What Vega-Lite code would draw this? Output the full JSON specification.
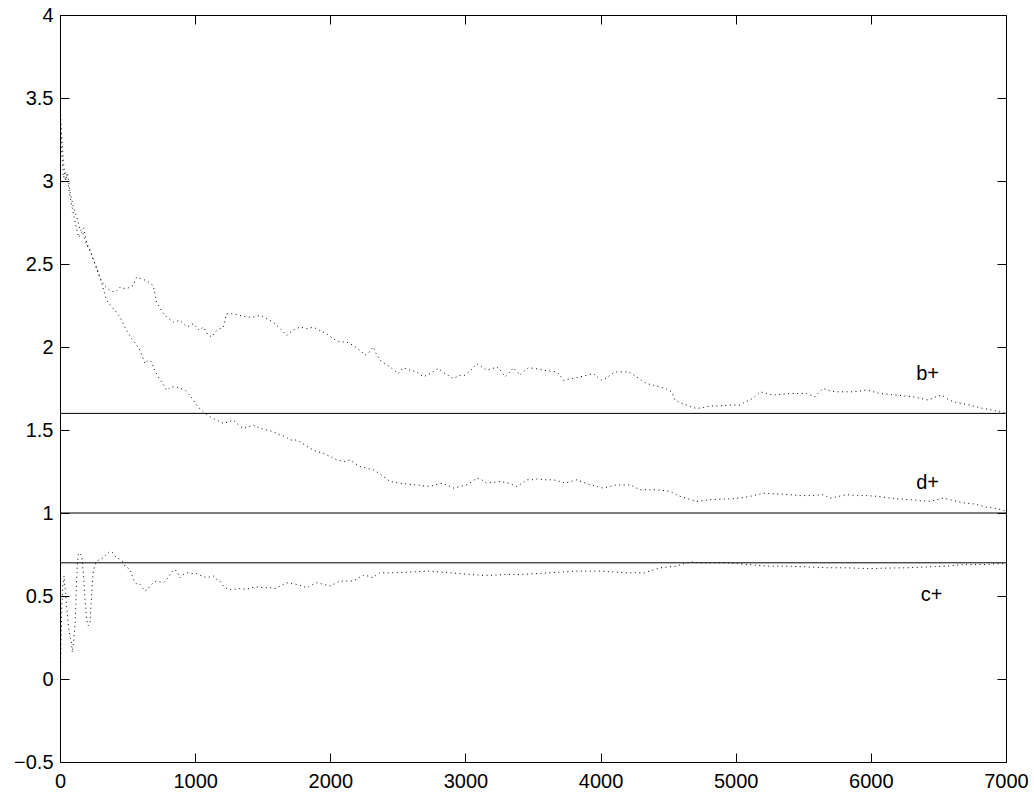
{
  "$schema": "https://vega.github.io/schema/vega-lite/v6.json",
  "width": 946,
  "height": 747,
  "autosize": {"type": "none"},
  "padding": {"left": 60, "top": 15, "right": 28, "bottom": 33},
  "background": "white",
  "config": {
    "view": {"stroke": "black", "strokeWidth": 1},
    "axis": {"domain": false, "grid": false, "labelFont": "Liberation Sans", "labelFontSize": 20, "labelColor": "black", "tickColor": "black", "tickWidth": 1, "tickSize": -9, "title": null, "labelFlush": false, "labelOverlap": false}
  },
  "datasets": {
    "curves": [
      {"s":"b","x":0,"y":3.48},{"s":"b","x":10,"y":3.3},{"s":"b","x":25,"y":3.12},{"s":"b","x":40,"y":3.0},{"s":"b","x":55,"y":3.05},{"s":"b","x":75,"y":2.93},{"s":"b","x":100,"y":2.84},{"s":"b","x":125,"y":2.78},{"s":"b","x":150,"y":2.7},{"s":"b","x":175,"y":2.72},{"s":"b","x":200,"y":2.62},{"s":"b","x":225,"y":2.58},{"s":"b","x":250,"y":2.52},{"s":"b","x":275,"y":2.47},{"s":"b","x":300,"y":2.41},{"s":"b","x":330,"y":2.37},{"s":"b","x":370,"y":2.34},{"s":"b","x":410,"y":2.33},{"s":"b","x":444,"y":2.36},{"s":"b","x":490,"y":2.35},{"s":"b","x":540,"y":2.37},{"s":"b","x":567,"y":2.42},{"s":"b","x":600,"y":2.41},{"s":"b","x":641,"y":2.4},{"s":"b","x":690,"y":2.37},{"s":"b","x":715,"y":2.27},{"s":"b","x":750,"y":2.22},{"s":"b","x":789,"y":2.18},{"s":"b","x":840,"y":2.15},{"s":"b","x":888,"y":2.16},{"s":"b","x":940,"y":2.12},{"s":"b","x":987,"y":2.14},{"s":"b","x":1030,"y":2.1},{"s":"b","x":1060,"y":2.12},{"s":"b","x":1090,"y":2.08},{"s":"b","x":1122,"y":2.06},{"s":"b","x":1160,"y":2.1},{"s":"b","x":1209,"y":2.12},{"s":"b","x":1233,"y":2.2},{"s":"b","x":1280,"y":2.2},{"s":"b","x":1330,"y":2.19},{"s":"b","x":1381,"y":2.18},{"s":"b","x":1430,"y":2.18},{"s":"b","x":1480,"y":2.19},{"s":"b","x":1530,"y":2.17},{"s":"b","x":1578,"y":2.15},{"s":"b","x":1630,"y":2.11},{"s":"b","x":1677,"y":2.07},{"s":"b","x":1720,"y":2.1},{"s":"b","x":1776,"y":2.12},{"s":"b","x":1830,"y":2.11},{"s":"b","x":1874,"y":2.12},{"s":"b","x":1920,"y":2.1},{"s":"b","x":1973,"y":2.08},{"s":"b","x":2020,"y":2.05},{"s":"b","x":2072,"y":2.03},{"s":"b","x":2120,"y":2.03},{"s":"b","x":2170,"y":2.01},{"s":"b","x":2220,"y":1.98},{"s":"b","x":2257,"y":1.95},{"s":"b","x":2290,"y":1.97},{"s":"b","x":2318,"y":2.0},{"s":"b","x":2345,"y":1.95},{"s":"b","x":2380,"y":1.91},{"s":"b","x":2442,"y":1.88},{"s":"b","x":2503,"y":1.84},{"s":"b","x":2540,"y":1.875},{"s":"b","x":2590,"y":1.86},{"s":"b","x":2639,"y":1.85},{"s":"b","x":2688,"y":1.82},{"s":"b","x":2740,"y":1.84},{"s":"b","x":2799,"y":1.87},{"s":"b","x":2850,"y":1.84},{"s":"b","x":2910,"y":1.81},{"s":"b","x":2960,"y":1.83},{"s":"b","x":2997,"y":1.83},{"s":"b","x":3040,"y":1.86},{"s":"b","x":3083,"y":1.9},{"s":"b","x":3120,"y":1.88},{"s":"b","x":3158,"y":1.86},{"s":"b","x":3200,"y":1.87},{"s":"b","x":3232,"y":1.88},{"s":"b","x":3270,"y":1.85},{"s":"b","x":3293,"y":1.82},{"s":"b","x":3330,"y":1.85},{"s":"b","x":3355,"y":1.875},{"s":"b","x":3404,"y":1.83},{"s":"b","x":3440,"y":1.86},{"s":"b","x":3466,"y":1.875},{"s":"b","x":3520,"y":1.87},{"s":"b","x":3577,"y":1.86},{"s":"b","x":3630,"y":1.855},{"s":"b","x":3676,"y":1.85},{"s":"b","x":3700,"y":1.83},{"s":"b","x":3725,"y":1.8},{"s":"b","x":3790,"y":1.81},{"s":"b","x":3848,"y":1.82},{"s":"b","x":3900,"y":1.83},{"s":"b","x":3947,"y":1.84},{"s":"b","x":3975,"y":1.82},{"s":"b","x":4008,"y":1.8},{"s":"b","x":4040,"y":1.81},{"s":"b","x":4070,"y":1.83},{"s":"b","x":4110,"y":1.85},{"s":"b","x":4144,"y":1.85},{"s":"b","x":4206,"y":1.85},{"s":"b","x":4267,"y":1.82},{"s":"b","x":4300,"y":1.8},{"s":"b","x":4341,"y":1.78},{"s":"b","x":4390,"y":1.77},{"s":"b","x":4440,"y":1.76},{"s":"b","x":4490,"y":1.745},{"s":"b","x":4526,"y":1.73},{"s":"b","x":4551,"y":1.68},{"s":"b","x":4600,"y":1.66},{"s":"b","x":4638,"y":1.65},{"s":"b","x":4680,"y":1.635},{"s":"b","x":4712,"y":1.63},{"s":"b","x":4760,"y":1.635},{"s":"b","x":4810,"y":1.645},{"s":"b","x":4880,"y":1.645},{"s":"b","x":4958,"y":1.65},{"s":"b","x":5032,"y":1.65},{"s":"b","x":5070,"y":1.67},{"s":"b","x":5106,"y":1.68},{"s":"b","x":5140,"y":1.7},{"s":"b","x":5180,"y":1.73},{"s":"b","x":5230,"y":1.72},{"s":"b","x":5276,"y":1.71},{"s":"b","x":5340,"y":1.715},{"s":"b","x":5402,"y":1.72},{"s":"b","x":5460,"y":1.72},{"s":"b","x":5525,"y":1.72},{"s":"b","x":5587,"y":1.7},{"s":"b","x":5620,"y":1.73},{"s":"b","x":5648,"y":1.75},{"s":"b","x":5700,"y":1.735},{"s":"b","x":5747,"y":1.73},{"s":"b","x":5810,"y":1.73},{"s":"b","x":5870,"y":1.73},{"s":"b","x":5920,"y":1.735},{"s":"b","x":5969,"y":1.74},{"s":"b","x":6020,"y":1.73},{"s":"b","x":6068,"y":1.72},{"s":"b","x":6130,"y":1.715},{"s":"b","x":6191,"y":1.71},{"s":"b","x":6250,"y":1.705},{"s":"b","x":6314,"y":1.7},{"s":"b","x":6370,"y":1.69},{"s":"b","x":6425,"y":1.68},{"s":"b","x":6480,"y":1.7},{"s":"b","x":6524,"y":1.71},{"s":"b","x":6560,"y":1.69},{"s":"b","x":6610,"y":1.67},{"s":"b","x":6670,"y":1.66},{"s":"b","x":6734,"y":1.65},{"s":"b","x":6780,"y":1.64},{"s":"b","x":6832,"y":1.63},{"s":"b","x":6900,"y":1.62},{"s":"b","x":6950,"y":1.61},{"s":"b","x":7000,"y":1.6},
      {"s":"d","x":0,"y":3.45},{"s":"d","x":12,"y":3.18},{"s":"d","x":25,"y":3.02},{"s":"d","x":40,"y":3.05},{"s":"d","x":60,"y":2.98},{"s":"d","x":80,"y":2.88},{"s":"d","x":100,"y":2.8},{"s":"d","x":120,"y":2.72},{"s":"d","x":140,"y":2.66},{"s":"d","x":165,"y":2.7},{"s":"d","x":190,"y":2.63},{"s":"d","x":220,"y":2.58},{"s":"d","x":250,"y":2.52},{"s":"d","x":280,"y":2.45},{"s":"d","x":310,"y":2.38},{"s":"d","x":345,"y":2.28},{"s":"d","x":375,"y":2.25},{"s":"d","x":407,"y":2.22},{"s":"d","x":444,"y":2.18},{"s":"d","x":493,"y":2.1},{"s":"d","x":530,"y":2.05},{"s":"d","x":560,"y":2.02},{"s":"d","x":592,"y":1.98},{"s":"d","x":629,"y":1.9},{"s":"d","x":650,"y":1.92},{"s":"d","x":678,"y":1.91},{"s":"d","x":700,"y":1.86},{"s":"d","x":727,"y":1.82},{"s":"d","x":760,"y":1.78},{"s":"d","x":789,"y":1.74},{"s":"d","x":820,"y":1.76},{"s":"d","x":851,"y":1.76},{"s":"d","x":890,"y":1.75},{"s":"d","x":925,"y":1.74},{"s":"d","x":960,"y":1.71},{"s":"d","x":987,"y":1.68},{"s":"d","x":1020,"y":1.64},{"s":"d","x":1060,"y":1.61},{"s":"d","x":1110,"y":1.58},{"s":"d","x":1159,"y":1.56},{"s":"d","x":1209,"y":1.54},{"s":"d","x":1250,"y":1.55},{"s":"d","x":1282,"y":1.56},{"s":"d","x":1320,"y":1.53},{"s":"d","x":1357,"y":1.51},{"s":"d","x":1400,"y":1.52},{"s":"d","x":1431,"y":1.53},{"s":"d","x":1480,"y":1.51},{"s":"d","x":1530,"y":1.5},{"s":"d","x":1580,"y":1.49},{"s":"d","x":1628,"y":1.47},{"s":"d","x":1670,"y":1.46},{"s":"d","x":1702,"y":1.44},{"s":"d","x":1740,"y":1.44},{"s":"d","x":1776,"y":1.43},{"s":"d","x":1810,"y":1.41},{"s":"d","x":1850,"y":1.39},{"s":"d","x":1900,"y":1.37},{"s":"d","x":1948,"y":1.36},{"s":"d","x":2000,"y":1.34},{"s":"d","x":2047,"y":1.32},{"s":"d","x":2100,"y":1.31},{"s":"d","x":2146,"y":1.32},{"s":"d","x":2180,"y":1.3},{"s":"d","x":2220,"y":1.28},{"s":"d","x":2270,"y":1.27},{"s":"d","x":2318,"y":1.26},{"s":"d","x":2360,"y":1.24},{"s":"d","x":2392,"y":1.22},{"s":"d","x":2442,"y":1.19},{"s":"d","x":2480,"y":1.185},{"s":"d","x":2516,"y":1.18},{"s":"d","x":2570,"y":1.175},{"s":"d","x":2615,"y":1.17},{"s":"d","x":2660,"y":1.168},{"s":"d","x":2713,"y":1.16},{"s":"d","x":2760,"y":1.165},{"s":"d","x":2812,"y":1.18},{"s":"d","x":2860,"y":1.17},{"s":"d","x":2910,"y":1.15},{"s":"d","x":2960,"y":1.16},{"s":"d","x":3010,"y":1.17},{"s":"d","x":3050,"y":1.19},{"s":"d","x":3083,"y":1.21},{"s":"d","x":3120,"y":1.2},{"s":"d","x":3158,"y":1.18},{"s":"d","x":3210,"y":1.185},{"s":"d","x":3256,"y":1.19},{"s":"d","x":3320,"y":1.18},{"s":"d","x":3380,"y":1.16},{"s":"d","x":3420,"y":1.18},{"s":"d","x":3454,"y":1.2},{"s":"d","x":3490,"y":1.2},{"s":"d","x":3528,"y":1.205},{"s":"d","x":3590,"y":1.2},{"s":"d","x":3651,"y":1.2},{"s":"d","x":3700,"y":1.19},{"s":"d","x":3737,"y":1.18},{"s":"d","x":3780,"y":1.19},{"s":"d","x":3824,"y":1.2},{"s":"d","x":3870,"y":1.185},{"s":"d","x":3922,"y":1.17},{"s":"d","x":3970,"y":1.16},{"s":"d","x":4020,"y":1.15},{"s":"d","x":4070,"y":1.16},{"s":"d","x":4119,"y":1.17},{"s":"d","x":4170,"y":1.168},{"s":"d","x":4218,"y":1.17},{"s":"d","x":4255,"y":1.155},{"s":"d","x":4292,"y":1.14},{"s":"d","x":4350,"y":1.14},{"s":"d","x":4415,"y":1.14},{"s":"d","x":4470,"y":1.135},{"s":"d","x":4514,"y":1.13},{"s":"d","x":4550,"y":1.115},{"s":"d","x":4588,"y":1.1},{"s":"d","x":4650,"y":1.085},{"s":"d","x":4712,"y":1.07},{"s":"d","x":4760,"y":1.075},{"s":"d","x":4810,"y":1.08},{"s":"d","x":4880,"y":1.083},{"s":"d","x":4958,"y":1.085},{"s":"d","x":5030,"y":1.09},{"s":"d","x":5106,"y":1.1},{"s":"d","x":5160,"y":1.11},{"s":"d","x":5217,"y":1.12},{"s":"d","x":5270,"y":1.115},{"s":"d","x":5328,"y":1.115},{"s":"d","x":5400,"y":1.11},{"s":"d","x":5476,"y":1.105},{"s":"d","x":5560,"y":1.105},{"s":"d","x":5648,"y":1.11},{"s":"d","x":5698,"y":1.09},{"s":"d","x":5760,"y":1.1},{"s":"d","x":5821,"y":1.11},{"s":"d","x":5900,"y":1.105},{"s":"d","x":5969,"y":1.105},{"s":"d","x":6050,"y":1.1},{"s":"d","x":6142,"y":1.09},{"s":"d","x":6220,"y":1.085},{"s":"d","x":6290,"y":1.08},{"s":"d","x":6360,"y":1.075},{"s":"d","x":6438,"y":1.07},{"s":"d","x":6490,"y":1.08},{"s":"d","x":6536,"y":1.09},{"s":"d","x":6585,"y":1.08},{"s":"d","x":6635,"y":1.07},{"s":"d","x":6700,"y":1.06},{"s":"d","x":6758,"y":1.055},{"s":"d","x":6810,"y":1.045},{"s":"d","x":6857,"y":1.035},{"s":"d","x":6910,"y":1.03},{"s":"d","x":6968,"y":1.02},{"s":"d","x":7000,"y":1.01},
      {"s":"c","x":0,"y":-0.2},{"s":"c","x":4,"y":0.05},{"s":"c","x":8,"y":0.25},{"s":"c","x":12,"y":0.4},{"s":"c","x":20,"y":0.55},{"s":"c","x":30,"y":0.62},{"s":"c","x":37,"y":0.55},{"s":"c","x":44,"y":0.48},{"s":"c","x":53,"y":0.4},{"s":"c","x":62,"y":0.32},{"s":"c","x":74,"y":0.26},{"s":"c","x":86,"y":0.21},{"s":"c","x":91,"y":0.16},{"s":"c","x":100,"y":0.22},{"s":"c","x":111,"y":0.32},{"s":"c","x":117,"y":0.45},{"s":"c","x":123,"y":0.6},{"s":"c","x":130,"y":0.7},{"s":"c","x":136,"y":0.75},{"s":"c","x":148,"y":0.76},{"s":"c","x":160,"y":0.74},{"s":"c","x":167,"y":0.69},{"s":"c","x":173,"y":0.64},{"s":"c","x":179,"y":0.56},{"s":"c","x":185,"y":0.48},{"s":"c","x":191,"y":0.42},{"s":"c","x":197,"y":0.36},{"s":"c","x":204,"y":0.33},{"s":"c","x":210,"y":0.32},{"s":"c","x":222,"y":0.34},{"s":"c","x":228,"y":0.42},{"s":"c","x":234,"y":0.5},{"s":"c","x":240,"y":0.58},{"s":"c","x":247,"y":0.65},{"s":"c","x":260,"y":0.69},{"s":"c","x":271,"y":0.71},{"s":"c","x":295,"y":0.72},{"s":"c","x":320,"y":0.73},{"s":"c","x":345,"y":0.75},{"s":"c","x":370,"y":0.77},{"s":"c","x":390,"y":0.76},{"s":"c","x":407,"y":0.74},{"s":"c","x":425,"y":0.73},{"s":"c","x":444,"y":0.72},{"s":"c","x":462,"y":0.71},{"s":"c","x":481,"y":0.68},{"s":"c","x":500,"y":0.67},{"s":"c","x":518,"y":0.66},{"s":"c","x":535,"y":0.62},{"s":"c","x":555,"y":0.58},{"s":"c","x":575,"y":0.57},{"s":"c","x":592,"y":0.57},{"s":"c","x":610,"y":0.55},{"s":"c","x":629,"y":0.53},{"s":"c","x":648,"y":0.54},{"s":"c","x":666,"y":0.56},{"s":"c","x":690,"y":0.58},{"s":"c","x":715,"y":0.59},{"s":"c","x":740,"y":0.585},{"s":"c","x":765,"y":0.58},{"s":"c","x":790,"y":0.6},{"s":"c","x":814,"y":0.63},{"s":"c","x":832,"y":0.65},{"s":"c","x":851,"y":0.66},{"s":"c","x":870,"y":0.64},{"s":"c","x":888,"y":0.61},{"s":"c","x":912,"y":0.63},{"s":"c","x":937,"y":0.64},{"s":"c","x":975,"y":0.635},{"s":"c","x":1011,"y":0.635},{"s":"c","x":1050,"y":0.62},{"s":"c","x":1085,"y":0.61},{"s":"c","x":1110,"y":0.615},{"s":"c","x":1135,"y":0.62},{"s":"c","x":1160,"y":0.6},{"s":"c","x":1184,"y":0.59},{"s":"c","x":1200,"y":0.57},{"s":"c","x":1221,"y":0.55},{"s":"c","x":1250,"y":0.54},{"s":"c","x":1282,"y":0.54},{"s":"c","x":1330,"y":0.545},{"s":"c","x":1381,"y":0.54},{"s":"c","x":1420,"y":0.55},{"s":"c","x":1455,"y":0.555},{"s":"c","x":1500,"y":0.55},{"s":"c","x":1554,"y":0.55},{"s":"c","x":1591,"y":0.545},{"s":"c","x":1630,"y":0.56},{"s":"c","x":1677,"y":0.58},{"s":"c","x":1710,"y":0.575},{"s":"c","x":1751,"y":0.57},{"s":"c","x":1790,"y":0.56},{"s":"c","x":1826,"y":0.55},{"s":"c","x":1860,"y":0.565},{"s":"c","x":1900,"y":0.58},{"s":"c","x":1950,"y":0.57},{"s":"c","x":1998,"y":0.56},{"s":"c","x":2035,"y":0.575},{"s":"c","x":2072,"y":0.59},{"s":"c","x":2120,"y":0.59},{"s":"c","x":2170,"y":0.59},{"s":"c","x":2210,"y":0.61},{"s":"c","x":2244,"y":0.625},{"s":"c","x":2280,"y":0.62},{"s":"c","x":2318,"y":0.61},{"s":"c","x":2345,"y":0.63},{"s":"c","x":2368,"y":0.64},{"s":"c","x":2430,"y":0.64},{"s":"c","x":2500,"y":0.64},{"s":"c","x":2600,"y":0.645},{"s":"c","x":2736,"y":0.65},{"s":"c","x":2880,"y":0.64},{"s":"c","x":3030,"y":0.63},{"s":"c","x":3120,"y":0.625},{"s":"c","x":3207,"y":0.625},{"s":"c","x":3300,"y":0.63},{"s":"c","x":3413,"y":0.63},{"s":"c","x":3520,"y":0.635},{"s":"c","x":3619,"y":0.64},{"s":"c","x":3720,"y":0.645},{"s":"c","x":3825,"y":0.65},{"s":"c","x":3920,"y":0.65},{"s":"c","x":4001,"y":0.65},{"s":"c","x":4090,"y":0.645},{"s":"c","x":4178,"y":0.64},{"s":"c","x":4250,"y":0.64},{"s":"c","x":4325,"y":0.64},{"s":"c","x":4380,"y":0.655},{"s":"c","x":4443,"y":0.67},{"s":"c","x":4500,"y":0.675},{"s":"c","x":4560,"y":0.68},{"s":"c","x":4620,"y":0.695},{"s":"c","x":4677,"y":0.705},{"s":"c","x":4740,"y":0.7},{"s":"c","x":4795,"y":0.7},{"s":"c","x":4870,"y":0.7},{"s":"c","x":4942,"y":0.7},{"s":"c","x":5010,"y":0.695},{"s":"c","x":5089,"y":0.69},{"s":"c","x":5160,"y":0.685},{"s":"c","x":5236,"y":0.68},{"s":"c","x":5310,"y":0.68},{"s":"c","x":5384,"y":0.68},{"s":"c","x":5530,"y":0.675},{"s":"c","x":5677,"y":0.67},{"s":"c","x":5820,"y":0.67},{"s":"c","x":5972,"y":0.665},{"s":"c","x":6120,"y":0.668},{"s":"c","x":6266,"y":0.67},{"s":"c","x":6410,"y":0.675},{"s":"c","x":6559,"y":0.68},{"s":"c","x":6630,"y":0.685},{"s":"c","x":6706,"y":0.69},{"s":"c","x":6780,"y":0.69},{"s":"c","x":6854,"y":0.69},{"s":"c","x":6930,"y":0.695},{"s":"c","x":7000,"y":0.695}
    ],
    "refs": [{"y": 1.6}, {"y": 1.0}, {"y": 0.7}],
    "labels": [
      {"t": "b+", "x": 6420, "y": 1.8},
      {"t": "d+", "x": 6420, "y": 1.145},
      {"t": "c+", "x": 6450, "y": 0.472}
    ]
  },
  "layer": [
    {
      "data": {"name": "curves"},
      "mark": {"type": "line", "strokeDash": [1, 3.5], "strokeWidth": 1, "color": "black", "clip": true},
      "encoding": {
        "x": {"field": "x", "type": "quantitative", "scale": {"domain": [0, 7000], "nice": false, "zero": false},
              "axis": {"orient": "bottom", "values": [0, 1000, 2000, 3000, 4000, 5000, 6000, 7000], "format": "d", "labelPadding": 18, "labelBaseline": "top", "labelFlush": false}},
        "y": {"field": "y", "type": "quantitative", "scale": {"domain": [-0.5, 4], "nice": false, "zero": false},
              "axis": {"orient": "left", "values": [-0.5, 0, 0.5, 1, 1.5, 2, 2.5, 3, 3.5, 4], "format": "~g", "labelPadding": 16, "labelFlush": false}},
        "detail": {"field": "s"}
      }
    },
    {
      "data": {"name": "refs"},
      "mark": {"type": "rule", "color": "black", "strokeWidth": 1},
      "encoding": {"y": {"field": "y", "type": "quantitative", "axis": null}}
    },
    {
      "data": {"name": "labels"},
      "mark": {"type": "text", "font": "Liberation Sans", "fontSize": 20, "align": "center", "baseline": "alphabetic", "color": "black"},
      "encoding": {
        "x": {"field": "x", "type": "quantitative", "axis": {"orient": "top", "labels": false, "values": [0, 1000, 2000, 3000, 4000, 5000, 6000, 7000]}},
        "y": {"field": "y", "type": "quantitative", "axis": {"orient": "right", "labels": false, "values": [-0.5, 0, 0.5, 1, 1.5, 2, 2.5, 3, 3.5, 4]}},
        "text": {"field": "t"}
      }
    }
  ],
  "resolve": {"axis": {"x": "independent", "y": "independent"}}
}
